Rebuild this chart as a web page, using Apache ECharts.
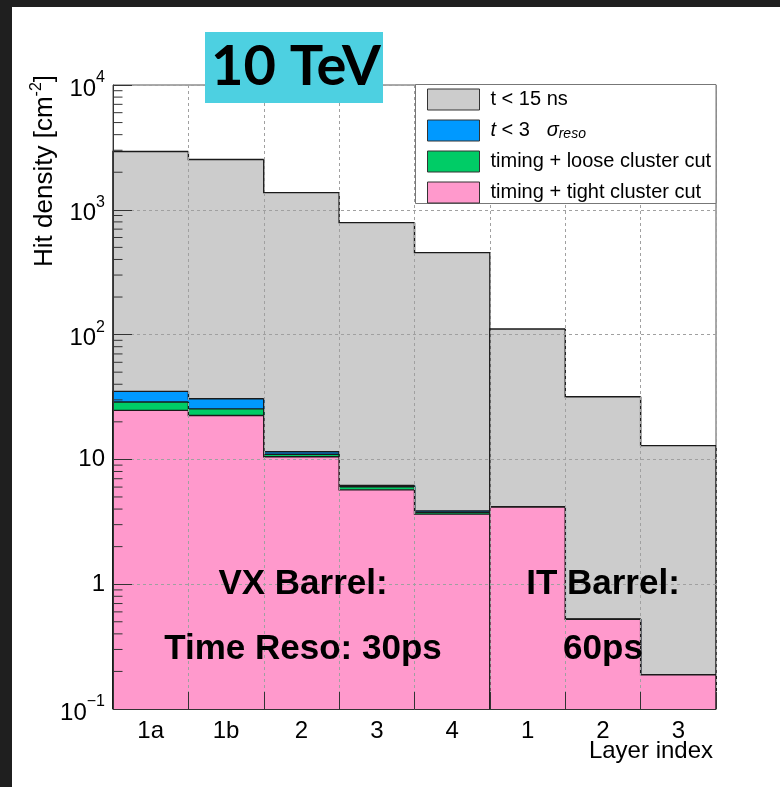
<!DOCTYPE html>
<html>
<head>
<meta charset="utf-8">
<title>Hit density per layer</title>
<script src="https://cdn.jsdelivr.net/npm/echarts@6/dist/echarts.min.js"></script>
<style>
  html, body { margin: 0; padding: 0; background: #ffffff; }
  #chart { width: 780px; height: 787px; }
</style>
</head>
<body>
<div id="chart"></div>
<script>
// Layer labels along the x axis and the detector each layer belongs to
const layerLabels = ['1a', '1b', '2', '3', '4', '1', '2', '3'];
const detector = ['VX', 'VX', 'VX', 'VX', 'VX', 'IT', 'IT', 'IT'];

// Hit density [cm^-2] per layer for each selection
const hitsTime15ns = [2930, 2530, 1374, 789, 454, 111, 31.8, 12.9];
const hitsTime3Sigma = [35.1, 30.6, 11.5, 6.18, 3.87, 4.16, 0.524, 0.188];
const hitsLooseCluster = [28.8, 25.4, 11.0, 6.03, 3.77, 4.16, 0.524, 0.188];
const hitsTightCluster = [24.7, 22.5, 10.5, 5.70, 3.64, 4.16, 0.524, 0.188];

// Legend names
const seriesNames = ['t < 15 ns', 't < 3 sigma_reso', 'timing + loose cluster cut', 'timing + tight cluster cut'];

// Logarithmic axis range and minor tick values (2..9 of every decade)
const yMin = 0.1, yMax = 10000;
const decades = [0.1, 1, 10, 100, 1000];
const minorMultipliers = [2, 3, 4, 5, 6, 7, 8, 9];
const minorTickValues = decades.flatMap(d => minorMultipliers.map(m => m * d));

const FONT = 'Liberation Sans, Arial, Helvetica, sans-serif';
const OUTLINE = '#1a1a1a';

// Step-histogram layer: each bin is filled from the axis floor and outlined
// with a step line that closes down to the floor at each detector's edges.
function histLayer(name, values, color) {
  return {
    type: 'custom',
    name: name,
    silent: true,
    z: 2,
    itemStyle: { color: color },
    encode: { x: 0, y: 1 },
    data: values.map((v, i) => [i, v]),
    renderItem: function (params, api) {
      const i = api.value(0);
      const v = api.value(1);
      const top = api.coord([i, v]);
      const w = api.size([1, 0])[0];
      const cs = params.coordSys;
      const floor = cs.y + cs.height;
      const left = top[0] - w / 2;
      const right = top[0] + w / 2;
      const first = i === 0 || detector[i - 1] !== detector[i];
      const last = i === values.length - 1 || detector[i + 1] !== detector[i];
      const startY = first ? floor : api.coord([i - 1, values[i - 1]])[1];
      const pts = [[left, startY], [left, top[1]], [right, top[1]]];
      if (last) pts.push([right, floor]);
      return {
        type: 'group',
        children: [
          {
            type: 'rect',
            shape: { x: left, y: top[1], width: w + (last ? 0 : 0.8), height: floor - top[1] },
            style: { fill: color }
          },
          {
            type: 'polyline',
            shape: { points: pts },
            style: { stroke: OUTLINE, lineWidth: 1.4, fill: null }
          }
        ]
      };
    }
  };
}

// Short inner ticks for the 2..9 sub-decades of the log axis
const minorTickSeries = {
  type: 'custom',
  name: 'minor ticks',
  silent: true,
  z: 6,
  encode: { x: 0, y: 1 },
  data: minorTickValues.map(v => [0, v]),
  renderItem: function (params, api) {
    const cs = params.coordSys;
    const y = api.coord([0, api.value(1)])[1];
    return {
      type: 'line',
      shape: { x1: cs.x, y1: y, x2: cs.x + 9.5, y2: y },
      style: { stroke: '#333', lineWidth: 1 }
    };
  }
};

const chart = echarts.init(document.getElementById('chart'), null, { renderer: 'canvas' });

const option = {
  animation: false,
  backgroundColor: '#ffffff',
  grid: {
    left: 113, right: 64, top: 85, bottom: 78,
    show: true, borderColor: '#555', borderWidth: 1, backgroundColor: '#ffffff'
  },
  xAxis: {
    type: 'category',
    data: layerLabels,
    z: 5,
    boundaryGap: true,
    axisLine: { show: true, lineStyle: { color: '#333', width: 1 } },
    axisTick: { show: true, inside: true, length: 17, lineStyle: { color: '#333', width: 1 } },
    splitLine: { show: true, lineStyle: { color: '#a0a0a0', width: 1, type: [3, 3] } },
    axisLabel: {
      interval: 0, margin: 10, color: '#000',
      fontFamily: FONT, fontSize: 24, lineHeight: 24
    }
  },
  yAxis: {
    type: 'log',
    logBase: 10,
    min: yMin,
    max: yMax,
    z: 5,
    axisLine: { show: true, lineStyle: { color: '#333', width: 1 } },
    axisTick: { show: true, inside: true, length: 19, lineStyle: { color: '#333', width: 1 } },
    splitLine: { show: true, lineStyle: { color: '#a0a0a0', width: 1, type: [3, 3] } },
    axisLabel: {
      margin: 8, color: '#000', fontFamily: FONT, fontSize: 24,
      showMinLabel: true, showMaxLabel: true,
      formatter: function (v) {
        const e = Math.round(Math.log10(v));
        if (e === 0) return '1';
        if (e === 1) return '10';
        return '{b|10}{s|' + (e < 0 ? '\u2212' + (-e) : e) + '}';
      },
      rich: {
        b: { fontFamily: FONT, fontSize: 24, lineHeight: 32, padding: [8, 0, 0, 0], verticalAlign: 'bottom', color: '#000' },
        s: { fontFamily: FONT, fontSize: 16, lineHeight: 17, padding: [1, 0, 0, 0], verticalAlign: 'top', color: '#000' }
      }
    }
  },
  legend: {
    show: true,
    z: 10,
    orient: 'vertical',
    left: 427,
    top: 87.5,
    padding: 0,
    itemWidth: 52,
    itemHeight: 21,
    itemGap: 7,
    selectedMode: false,
    icon: 'rect',
    data: [
      { name: seriesNames[0], itemStyle: { color: '#cccccc', borderColor: '#333', borderWidth: 1 } },
      { name: seriesNames[1], itemStyle: { color: '#0099ff', borderColor: '#333', borderWidth: 1 } },
      { name: seriesNames[2], itemStyle: { color: '#00cc66', borderColor: '#333', borderWidth: 1 } },
      { name: seriesNames[3], itemStyle: { color: '#ff99cc', borderColor: '#333', borderWidth: 1 } }
    ],
    formatter: function (name) {
      if (name === seriesNames[1]) return '{i|t} < 3   {i|\u03c3}{sub|reso}';
      return name;
    },
    textStyle: {
      fontFamily: FONT, fontSize: 20, lineHeight: 24, color: '#000', padding: [0, 0, 0, 6],
      rich: {
        i: { fontFamily: FONT, fontSize: 20, fontStyle: 'italic', lineHeight: 24, color: '#000' },
        sub: { fontFamily: FONT, fontSize: 14, fontStyle: 'italic', lineHeight: 14, padding: [9, 0, 0, 0], verticalAlign: 'top', color: '#000' }
      }
    }
  },
  graphic: [
    // page border strips
    { type: 'rect', z: 20, shape: { x: 0, y: 0, width: 780, height: 7 }, style: { fill: '#1f1f1f' } },
    { type: 'rect', z: 20, shape: { x: 0, y: 0, width: 12, height: 787 }, style: { fill: '#1f1f1f' } },
    // legend frame
    { type: 'rect', z: 9, shape: { x: 415.5, y: 84.5, width: 300.5, height: 119 }, style: { fill: '#ffffff', stroke: '#777', lineWidth: 1 } },
    // energy badge
    { type: 'rect', z: 11, shape: { x: 205, y: 32, width: 178, height: 71 }, style: { fill: '#4dd0e1' } },
    {
      type: 'text', z: 12, x: 296, y: 67,
      style: { text: '10 TeV', fill: '#000', font: 'bold 56px Lato, "Noto Sans", sans-serif', textAlign: 'center', textVerticalAlign: 'middle' }
    },
    // y-axis title
    {
      type: 'text', z: 12, x: 45, y: 75, rotation: Math.PI / 2,
      style: {
        text: 'Hit density [cm{sup|-2}]', fill: '#000', font: '26px ' + FONT, lineHeight: 32,
        textAlign: 'right', textVerticalAlign: 'middle',
        rich: { sup: { fontFamily: FONT, fontSize: 16, lineHeight: 16, verticalAlign: 'top', fill: '#000' } }
      }
    },
    // x-axis title
    {
      type: 'text', z: 12, x: 713, y: 751,
      style: { text: 'Layer index', fill: '#000', font: '24px ' + FONT, textAlign: 'right', textVerticalAlign: 'middle' }
    },
    // detector annotations
    { type: 'text', z: 12, x: 303, y: 584.5, style: { text: 'VX Barrel:', fill: '#000', font: 'bold 35px ' + FONT, textAlign: 'center', textVerticalAlign: 'middle' } },
    { type: 'text', z: 12, x: 303, y: 649.5, style: { text: 'Time Reso: 30ps', fill: '#000', font: 'bold 35px ' + FONT, textAlign: 'center', textVerticalAlign: 'middle' } },
    { type: 'text', z: 12, x: 603, y: 584.5, style: { text: 'IT Barrel:', fill: '#000', font: 'bold 35px ' + FONT, textAlign: 'center', textVerticalAlign: 'middle' } },
    { type: 'text', z: 12, x: 603, y: 649.5, style: { text: '60ps', fill: '#000', font: 'bold 35px ' + FONT, textAlign: 'center', textVerticalAlign: 'middle' } }
  ],
  series: [
    histLayer(seriesNames[0], hitsTime15ns, '#cccccc'),
    histLayer(seriesNames[1], hitsTime3Sigma, '#0099ff'),
    histLayer(seriesNames[2], hitsLooseCluster, '#00cc66'),
    histLayer(seriesNames[3], hitsTightCluster, '#ff99cc'),
    minorTickSeries
  ]
};

chart.setOption(option);
</script>
</body>
</html>
